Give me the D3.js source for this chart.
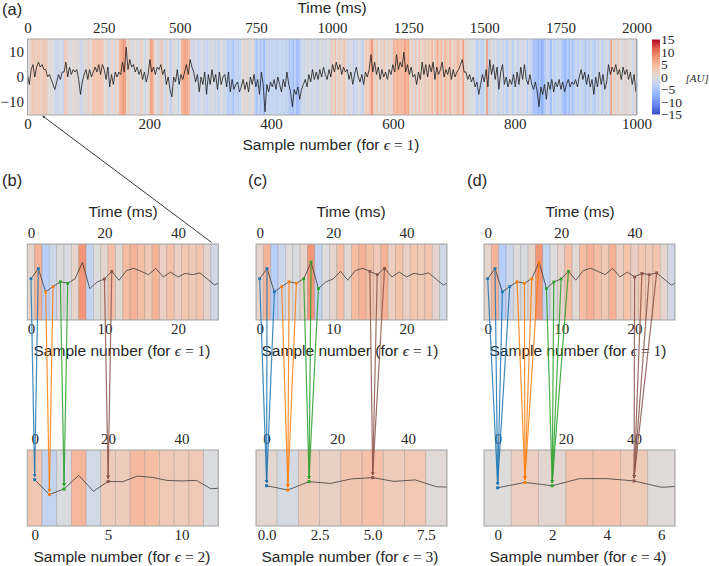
<!DOCTYPE html>
<html><head><meta charset="utf-8">
<script src="https://cdn.jsdelivr.net/npm/d3@7"></script>
<style>html,body{margin:0;padding:0;background:#fff}svg{display:block}</style>
</head><body><svg id="c" width="709" height="566"></svg>
<script>
// Full signal, one reading every 3 samples
const signalStep = 3;
const signal = [
1,-3,3,5,0,4,6,4,5,3,
3,0,1,-1,-3,-5,-2,1,-1,2,
2,6,0,4,1,3,2,3,-1,-7,
-2,1,3,-1,3,0,2,4,2,5,
1,5,3,-1,4,-4,1,-3,2,0,
2,1,6,2,12,3,7,4,5,2,
4,1,3,-1,2,-2,1,7,2,4,
1,4,3,5,1,3,-3,0,-5,-8,
0,-2,3,-3,1,-1,2,5,1,7,
4,2,-2,1,-6,0,-3,2,-7,1,
-3,3,-2,1,-5,2,-3,0,1,-4,
2,-6,-1,-5,-3,-2,-6,-4,-1,-5,
-2,-6,0,-3,1,-4,-1,-7,2,-3,
-14,-3,-6,-2,-4,-1,-5,0,-3,-6,
-1,-4,2,-3,-6,-12,-5,-7,-4,-9,
-5,-3,-1,-4,1,-2,3,-1,2,-1,
3,0,4,1,-1,3,0,5,2,6,
3,5,1,4,2,3,-1,2,-3,1,
4,0,-2,1,-3,2,0,3,9,2,
6,1,4,-1,3,0,2,-1,3,1,
5,2,9,3,6,4,10,2,5,1,
4,0,1,-3,2,-1,6,1,5,0,
5,2,6,-1,4,1,3,6,0,3,
1,4,-1,3,0,2,3,5,7,2,
2,-1,1,-2,0,-4,-2,-7,-3,1,
-2,3,-4,7,1,5,-1,4,-5,2,
5,-3,0,-4,-1,-3,1,-4,2,-3,
4,-1,5,-1,-3,1,-3,-5,-2,-6,
-12,-4,-7,-3,-9,-2,-5,-1,-6,-2,
-4,-1,-5,-2,-6,-3,-1,-4,-2,-3,
-1,-4,0,3,-1,2,-3,1,-4,-1,
-7,0,-4,2,-3,1,-5,-2,5,1,
4,2,5,1,3,-1,4,1,3,-1,
2,-3,1,-6];

const stripes = [
0,1,3,3,2,3,3,2,3,3,
3,0,1,-0.5,0,-2,-1.5,-2,-1,-2.5,
3,2,0.5,-1,0.5,1,-0.5,1,-1,-2.5,
-1,1,0.5,2,0,3,4,3,3.5,3,
4,2.5,0,1,-2,0.5,1.5,-1,2,0.5,
5,6,8,7,1,2,0,-1.5,1,0.5,
-1,0.5,2,0,-2,0,1,7,6,2,
0.5,-1.5,2,3,0.5,-2,1,-1,-3,0.5,
-1,0,-2.5,0,5,6,7,6,5,-1,
-1,-2,0,-3,-1.5,0,-2,-1,-3,-1,
-1.5,0,-2,-0.5,-3,-1,0,-2,-1,-4,
-4,-3,-5,-3,-2,-4,-2,0,1,-0.5,
1,-1,0,1,-3,-5,-2,-5,-4,-6,
-3,-2,-3,-2.5,-3,-2,-3,-2.5,-2,-3,
-2,-3,-2,-5,-4,-6,-3,-6,-5,-3,
-1,-2,-0.5,-1.5,0,-2,-1,-0.5,-2,-1,
0,-1.5,-0.5,-2,0,-1,3,1,4,0.5,
3,0,2,4,0.5,-2,-1,0,-3,-1.5,
-2,0,-1,-3,1,3,2,4,8,3,
1,3,0,2,1,3,0,2,1,1,
5,4,6,5,5,4,7,5,6,1,
2,0.5,3,-0.5,4,1,2,3,1,4,
2,5,1,3,6,2,5,1,5,3,
2,5,1,3,2,5,3,2,7,1,
1,0,-0.5,-1,0,-3,-3,-1,-4,-3,
-1,7,-2,1,-0.5,-2,0,-3,-1,-0.5,
-3,-1,-4,-1,0,-4,-2,-0.5,-3,-1,
0,-2,0,-4,-1,-2,-4,-6,-5,-7,
-5,-7,-6,-4,-2,-3,-6,-1,-4,-2,
-3,-2,-4,-5,-7,-4,-6,-3,-5,-3,
-2,-4,-1,-3,-2,-5,-2,-4,-1,-3,
-4,-1,-3,0,-4,-1,-2,-0.5,-3,7,
1,2,-0.5,3,0,1,-1,2,-0.5,1,
0,-2,1,-3];

// Zoomed series
const eps1 = [1.3,5.3,-3.9,-1.8,0.1,-0.5,1.3,7.8,-2.6,0,1.2,4.2,0.7,4.5,5.4,4.2,2.9,5.4,2,3.9,2,3.4,2.9,3.6,1.2,-1.2,0.3];
const eps2 = [3.3,-2.6,-0.4,5,-1.3,2.6,2.5,4.7,4.2,3,2.8,3,-0.3,0.1];
const eps3 = [0.9,-0.8,2.5,1.8,3.6,4.1,2.6,3.2,0.5,0.2];
const eps4 = [0.1,2.2,0.9,3.7,3.7,2.8,0.3,0.8];

// Coarse-graining groups: eps-1 sample indices joined to one coarse sample
const groupsB = [[[0,1],0],[[2,3],1],[[4,5],2],[[10,11],5]];
const groupsC = [[[0,1,2],0],[[3,4,5],1],[[6,7,8],2],[[15,16,17],5]];
const groupsD = [[[0,1,2,3],0],[[4,5,6,7],1],[[8,9,10,11],2],[[20,21,22,23],5]];
const groupColors = ["#1f77b4","#ff7f0e","#2ca02c","#8c564b"];

// Tick labels
const timeTicksA = [0,250,500,750,1000,1250,1500,1750,2000];
const sampleTicksA = [0,200,400,600,800,1000];
const yTicksA = [10,0,-10];
const cbarTicks = [15,10,5,0,-5,-10,-15];
const timeTicksSub = [0,20,40];
const sampleTicksB1 = [0,10,20];
const sampleTicksB2 = [0,5,10];
const sampleTicksC2 = [0,2.5,5,7.5];
const sampleTicksD2 = [0,2,4,6];

const colorStops = ["#3b4cc0","#6282ea","#8db0fe","#b9d0f9","#dddcdc","#f5c4ac","#f49a7b","#e0654f","#b40426"];
const color = d3.scaleLinear().domain(d3.range(9).map(i=>-15+i*3.75)).range(colorStops).clamp(true);

const SERIF = "'Liberation Serif',serif", SANS = "'Liberation Sans',sans-serif";
const svg = d3.select("#c");
const defs = svg.append("defs");
groupColors.concat(["#222"]).forEach((c,i)=>{
  defs.append("marker").attr("id","ah"+i).attr("viewBox","0 0 6 6").attr("refX",5).attr("refY",3)
    .attr("markerWidth",3).attr("markerHeight",3).attr("orient","auto")
    .append("path").attr("d","M0,0L6,3L0,6Z").attr("fill",c);
});

function styleAxis(g,size){
  g.select(".domain").remove();
  g.selectAll("text").attr("font-family",SERIF).attr("font-size",size||15).attr("fill","#262626");
}
function label(x,y,t,anchor,size){
  return svg.append("text").attr("x",x).attr("y",y).attr("text-anchor",anchor||"middle")
    .attr("font-family",SANS).attr("font-size",size||15.5).attr("fill","#262626").text(t);
}
function sampleLabel(x,y,n){
  const t = label(x,y,"Sample number (for ");
  t.append("tspan").attr("font-family",SERIF).attr("font-style","italic").text("\u03f5");
  t.append("tspan").attr("font-family",SERIF).text(" = "+n);
  t.append("tspan").text(")");
}

let clipId = 0;
function panel(o){
  const x = d3.scaleLinear().domain(o.xd).range([o.x0,o.x1]);
  const y = d3.scaleLinear().domain([-15,15]).range([o.y1,o.y0]);
  const id = "clip"+(clipId++);
  defs.append("clipPath").attr("id",id).append("rect")
    .attr("x",o.x0).attr("y",o.y0).attr("width",o.x1-o.x0).attr("height",o.y1-o.y0);
  const g = svg.append("g").attr("clip-path",`url(#${id})`);
  g.selectAll("rect").data(o.vals).join("rect")
    .attr("x",(d,i)=>x(i-0.5)).attr("y",o.y0)
    .attr("width",x(1)-x(0)).attr("height",o.y1-o.y0)
    .attr("fill",d=>color(d))
    .attr("stroke","rgba(110,110,110,0.28)").attr("stroke-width",0.8);
  g.append("path").datum(o.vals)
    .attr("d",d3.line().x((d,i)=>x(i)).y(d=>y(d)))
    .attr("fill","none").attr("stroke","#333").attr("stroke-width",0.75);
  svg.append("rect").attr("x",o.x0).attr("y",o.y0).attr("width",o.x1-o.x0).attr("height",o.y1-o.y0)
    .attr("fill","none").attr("stroke","#a8a8a8").attr("stroke-width",1);
  svg.append("g").attr("transform",`translate(0,${o.y1})`)
    .call(d3.axisBottom(x).tickValues(o.bt).tickSize(0).tickPadding(3.4).tickFormat(o.fmt||(d=>d)))
    .call(styleAxis);
  svg.append("g").attr("transform",`translate(0,${o.y0})`)
    .call(d3.axisTop(x).tickValues(timeTicksSub.map(t=>t/o.ms)).tickSize(0).tickPadding(6).tickFormat(d=>Math.round(d*o.ms)))
    .call(styleAxis);
  return {x,y,vals:o.vals};
}

// ---- panel (a)
const ax0=27.5, ax1=636.5, ay0=39, ay1=115;
const xA = d3.scaleLinear().domain([0,1000]).range([ax0,ax1]);
const yA = d3.scaleLinear().domain([-15.3,15.3]).range([ay1,ay0]);
svg.append("g").selectAll("rect").data(stripes).join("rect")
  .attr("x",(d,i)=>xA(i*signalStep)).attr("y",ay0)
  .attr("width",xA(signalStep)-xA(0)+0.3).attr("height",ay1-ay0)
  .attr("fill",d=>color(d));
svg.append("path").datum(signal)
  .attr("d",d3.line().x((d,i)=>xA(i*signalStep)).y(d=>yA(d)))
  .attr("fill","none").attr("stroke","#1c1c1c").attr("stroke-width",0.8);
svg.append("rect").attr("x",ax0).attr("y",ay0).attr("width",ax1-ax0).attr("height",ay1-ay0)
  .attr("fill","none").attr("stroke","#a8a8a8");
svg.append("g").attr("transform",`translate(0,${ay1})`)
  .call(d3.axisBottom(xA).tickValues(sampleTicksA).tickSize(0).tickPadding(3.4).tickFormat(d=>d)).call(styleAxis);
svg.append("g").attr("transform",`translate(0,${ay0})`)
  .call(d3.axisTop(xA).tickValues(timeTicksA.map(t=>t/2)).tickSize(0).tickPadding(6).tickFormat(d=>d*2)).call(styleAxis);
svg.append("g").attr("transform",`translate(${ax0},0)`)
  .call(d3.axisLeft(yA).tickValues(yTicksA).tickSize(0).tickPadding(3.5)).call(styleAxis);

// colour bar
const cbar = defs.append("linearGradient").attr("id","cb").attr("x1",0).attr("x2",0).attr("y1",1).attr("y2",0);
colorStops.forEach((c,i)=>cbar.append("stop").attr("offset",i/8).attr("stop-color",c));
const yC = d3.scaleLinear().domain([-15,15]).range([114.5,39.5]);
svg.append("rect").attr("x",652).attr("y",yC(15)).attr("width",8).attr("height",yC(-15)-yC(15)).attr("fill","url(#cb)");
svg.append("g").attr("transform","translate(660,0)")
  .call(d3.axisRight(yC).tickValues(cbarTicks).tickSize(0).tickPadding(1))
  .call(g=>styleAxis(g,13.5));
svg.append("text").attr("x",685.5).attr("y",81.5).attr("font-family",SERIF).attr("font-style","italic")
  .attr("font-size",11).attr("fill","#262626").text("[AU]");

label(2,15,"(a)","start",16.5);
label(332,13,"Time (ms)");
sampleLabel(331,150,1);

// ---- lower panels
const colsX = [[27.3,218.3],[256,447],[484,675]];
const yTop=[244,320], yBot=[450,526];
const xd1=[-0.5,25.5];
const pB1 = panel({x0:colsX[0][0],x1:colsX[0][1],y0:yTop[0],y1:yTop[1],xd:xd1,vals:eps1,bt:sampleTicksB1,ms:2});
const pC1 = panel({x0:colsX[1][0],x1:colsX[1][1],y0:yTop[0],y1:yTop[1],xd:xd1,vals:eps1,bt:sampleTicksB1,ms:2});
const pD1 = panel({x0:colsX[2][0],x1:colsX[2][1],y0:yTop[0],y1:yTop[1],xd:xd1,vals:eps1,bt:sampleTicksB1,ms:2});
const pB2 = panel({x0:colsX[0][0],x1:colsX[0][1],y0:yBot[0],y1:yBot[1],xd:[-0.5,12.5],vals:eps2,bt:sampleTicksB2,ms:4});
const pC2 = panel({x0:colsX[1][0],x1:colsX[1][1],y0:yBot[0],y1:yBot[1],xd:[-0.5,8.5],vals:eps3,bt:sampleTicksC2,ms:6,fmt:d3.format(".1f")});
const pD2 = panel({x0:colsX[2][0],x1:colsX[2][1],y0:yBot[0],y1:yBot[1],xd:[-0.5,6.5],vals:eps4,bt:sampleTicksD2,ms:8});

[["(b)",2],["(c)",248],["(d)",467]].forEach(d=>label(d[1],186,d[0],"start",16.5));
[123,351,580].forEach(cx=>label(cx,217,"Time (ms)"));
[122,350,578].forEach(cx=>sampleLabel(cx,356,1));
[[122,2],[350,3],[578,4]].forEach(d=>sampleLabel(d[0],562,d[1]));

function connect(top,bot,groups){
  const g = svg.append("g");
  groups.forEach((gr,c)=>{
    const col = groupColors[c], tx = bot.x(gr[1]), ty = bot.y(bot.vals[gr[1]]);
    gr[0].forEach(s=>{
      g.append("line").attr("x1",top.x(s)).attr("y1",top.y(top.vals[s]))
        .attr("x2",tx).attr("y2",ty-3)
        .attr("stroke",col).attr("stroke-width",1.2).attr("stroke-opacity",0.85)
        .attr("marker-end",`url(#ah${c})`);
      g.append("rect").attr("x",top.x(s)-1.4).attr("y",top.y(top.vals[s])-1.4)
        .attr("width",2.8).attr("height",2.8).attr("fill",col);
    });
    g.append("rect").attr("x",tx-1.5).attr("y",ty-1.5).attr("width",3).attr("height",3).attr("fill",col);
  });
}
connect(pB1,pB2,groupsB);
connect(pC1,pC2,groupsC);
connect(pD1,pD2,groupsD);

// zoom arrow from panel a to panel b
svg.append("line").attr("x1",pB1.x(24.6)).attr("y1",242.5).attr("x2",xA(25)).attr("y2",ay1+1)
  .attr("stroke","#222").attr("stroke-width",0.9).attr("marker-end","url(#ah4)");
</script></body></html>
